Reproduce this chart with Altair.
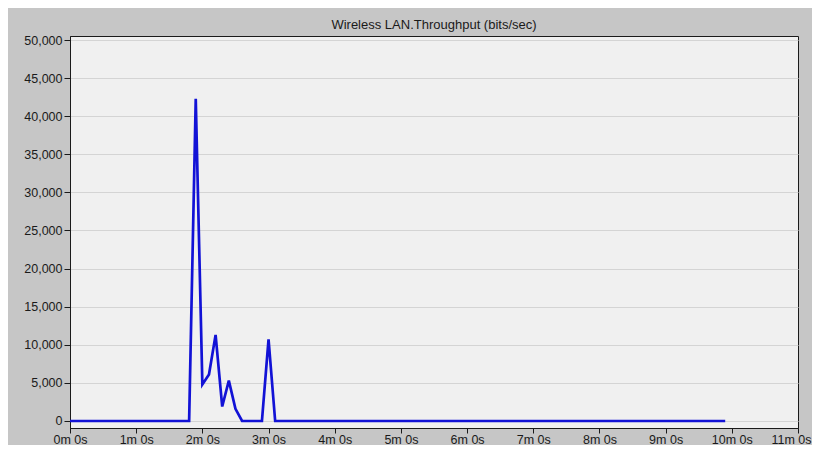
import altair as alt
import pandas as pd

# Data (time in minutes, throughput in bits/sec)
time_min = [0, 1.8, 1.9, 2.0, 2.1, 2.2, 2.3, 2.4, 2.5, 2.6, 2.9, 3.0, 3.1, 9.9]
throughput = [0, 0, 42300, 4800, 6100, 11300, 1900, 5300, 1600, 0, 0, 10700, 0, 0]
x_ticks = list(range(0, 12))
y_ticks = list(range(0, 50001, 5000))
title_text = "Wireless LAN.Throughput (bits/sec)"

df = pd.DataFrame({"t": time_min, "v": throughput})

FONT = "Liberation Sans"

chart = alt.Chart(df).mark_line(color="#1212d6", strokeWidth=2.7, clip=True).encode(
    x=alt.X(
        "t:Q",
        scale=alt.Scale(domain=[0, 11], nice=False, zero=False),
        axis=alt.Axis(
            values=x_ticks,
            labelExpr="datum.value + 'm 0s'",
            title=None,
            grid=False,
            domainColor="#1a1a1a",
            tickColor="#1a1a1a",
            tickSize=5,
            labelPadding=0,
            labelFlush=False,
            labelOverlap=False,
            labelAlign={"condition": {"test": "datum.value == 11", "value": "right"}, "value": "center"},
            labelOffset={"condition": {"test": "datum.value == 11", "value": 13}, "value": 0},
            labelFont=FONT,
            labelFontSize=12.5,
            labelColor="#1a1a1a",
        ),
    ),
    y=alt.Y(
        "v:Q",
        scale=alt.Scale(domain=[-919, 50525], nice=False, zero=False),
        axis=alt.Axis(
            values=y_ticks,
            format=",d",
            title=None,
            grid=True,
            gridColor="#d4d4d4",
            gridWidth=1,
            domainColor="#1a1a1a",
            tickColor="#1a1a1a",
            tickSize=6,
            labelPadding=2,
            labelFlush=False,
            labelOverlap=False,
            labelFont=FONT,
            labelFontSize=12.5,
            labelColor="#1a1a1a",
        ),
    ),
).properties(
    width=728,
    height=392,
    title=alt.TitleParams(
        text=title_text,
        anchor="middle",
        frame="group",
        font=FONT,
        fontSize=13,
        fontWeight="normal",
        color="#1a1a1a",
        offset=2,
    ),
    background="#c6c6c6",
    padding={"left": 62, "top": 28, "right": 14, "bottom": 17},
    autosize=alt.AutoSizeParams(type="none"),
).configure_view(
    fill="#f0f0f0", stroke="#1a1a1a", strokeWidth=1
)

chart.save("out.html", embed_options={"renderer": "svg", "actions": False})
